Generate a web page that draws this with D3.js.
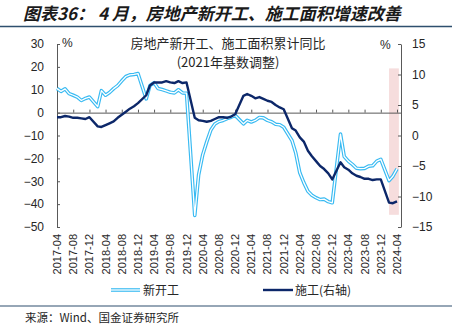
<!DOCTYPE html>
<html><head><meta charset="utf-8">
<script src="https://cdn.jsdelivr.net/npm/d3@7"></script>
<style>
html,body{margin:0;padding:0;background:#fff;}
svg{display:block;}
text{font-family:"Liberation Sans",Arial,"Noto Sans CJK SC",sans-serif;}
.cjk{font-family:"Noto Sans CJK SC","Liberation Sans",sans-serif;}
</style></head>
<body>
<script>
const months = ["2017-04","2017-05","2017-06","2017-07","2017-08","2017-09","2017-10","2017-11","2017-12",
"2018-02","2018-03","2018-04","2018-05","2018-06","2018-07","2018-08","2018-09","2018-10","2018-11","2018-12",
"2019-02","2019-03","2019-04","2019-05","2019-06","2019-07","2019-08","2019-09","2019-10","2019-11","2019-12",
"2020-02","2020-03","2020-04","2020-05","2020-06","2020-07","2020-08","2020-09","2020-10","2020-11","2020-12",
"2021-02","2021-03","2021-04","2021-05","2021-06","2021-07","2021-08","2021-09","2021-10","2021-11","2021-12",
"2022-02","2022-03","2022-04","2022-05","2022-06","2022-07","2022-08","2022-09","2022-10","2022-11","2022-12",
"2023-02","2023-03","2023-04","2023-05","2023-06","2023-07","2023-08","2023-09","2023-10","2023-11","2023-12",
"2024-02","2024-03","2024-04"];
// 新开工 (left axis, %)
const newStarts = [10.5,9.3,10.4,8.3,7.6,6.8,5.3,6.2,6.8,
2.6,9.6,7.6,8.8,10.5,11.8,13.9,15.8,16.5,16.7,17.1,
6.0,11.9,13.1,10.5,10.1,9.5,8.9,8.6,10.0,8.6,8.5,
-44.9,-27.2,-18.4,-12.8,-7.6,-5.0,-3.9,-3.4,-2.6,-2.0,-1.2,
-4.9,-3.4,-4.1,-3.4,-2.1,-2.3,-3.4,-4.0,-5.1,-5.3,-6.4,
-12.2,-17.5,-26.3,-30.6,-34.4,-36.1,-37.2,-38.0,-37.8,-38.9,-39.4,
-9.4,-19.2,-21.2,-22.6,-24.3,-24.5,-24.4,-23.4,-23.2,-21.2,-20.4,
-29.7,-27.8,-24.6];
// 施工 (right axis, %)
const construction = [3.0,3.0,3.2,3.1,2.9,2.9,2.8,2.7,3.0,
1.5,1.4,1.7,2.0,2.3,2.9,3.4,3.9,4.4,4.8,5.3,
6.6,8.2,8.7,8.7,8.7,8.9,8.7,8.6,8.9,8.6,8.7,
2.9,2.5,2.4,2.25,2.4,2.7,3.0,3.0,2.9,3.1,3.5,
6.5,6.8,6.5,6.1,6.3,6.0,5.7,5.5,5.0,4.6,4.3,
1.2,0.8,-0.3,-1.0,-2.5,-3.4,-4.2,-5.0,-5.5,-6.2,-7.2,
-4.4,-5.2,-5.6,-6.2,-6.6,-6.8,-7.1,-7.1,-7.3,-7.2,-7.2,
-11.0,-11.1,-10.8];
const xTickLabels = ["2017-04","2017-08","2017-12","2018-04","2018-08","2018-12","2019-04","2019-08","2019-12",
"2020-04","2020-08","2020-12","2021-04","2021-08","2021-12","2022-04","2022-08","2022-12","2023-04","2023-08","2023-12","2024-04"];
const leftTicks = [30,20,10,0,-10,-20,-30,-40,-50];
const rightTicks = [15,10,5,0,-5,-10,-15];
const highlightDates = ["2024-02-01","2024-04-15"];
const highlightRange = [11,-13];
const seriesNames = ["新开工","施工(右轴)"];
const titleText = "图表36： 4 月，房地产新开工、施工面积增速改善";
const chartTitle = ["房地产新开工、施工面积累计同比","(2021年基数调整)"];
const sourceText = "来源：Wind、国金证券研究所";

const W=452,H=334;
const parse = d3.timeParse("%Y-%m");
const parseD = d3.timeParse("%Y-%m-%d");
const svg = d3.select("body").append("svg").attr("width",W).attr("height",H);

const x = d3.scaleTime().domain([parse("2017-04"), parse("2024-05")]).range([57,401]);
const yL = d3.scaleLinear().domain([-50,30]).range([227,44]);
const yR = d3.scaleLinear().domain([-15,15]).range([227,44]);

const lightBlue="#38BAF2", navy="#0C2769", axisCol="#595959", textCol="#262626";

// title
svg.append("text").attr("class","cjk").attr("x",23).attr("y",20)
  .attr("font-size",17).attr("font-weight","bold").attr("font-style","italic")
  .attr("fill","#1a1a1a").text(titleText);
svg.append("line").attr("x1",0).attr("x2",W).attr("y1",26.5).attr("y2",26.5)
  .attr("stroke","#2E4F6E").attr("stroke-width",1.6);

// highlight band
svg.append("rect")
  .attr("x",x(parseD(highlightDates[0]))).attr("width",x(parseD(highlightDates[1]))-x(parseD(highlightDates[0])))
  .attr("y",yR(highlightRange[0])).attr("height",yR(highlightRange[1])-yR(highlightRange[0]))
  .attr("fill","#F5D9D9").attr("opacity",0.9);

// left axis
const gL = svg.append("g").attr("transform",`translate(${x.range()[0]},0)`)
  .call(d3.axisLeft(yL).tickValues(leftTicks).tickSizeInner(-3).tickSizeOuter(0).tickPadding(13));
gL.select(".domain").attr("stroke",axisCol);
gL.selectAll(".tick line").attr("stroke",axisCol);
gL.selectAll(".tick text").attr("font-size",12).attr("fill",textCol);

// right axis
const gR = svg.append("g").attr("transform",`translate(${x.range()[1]},0)`)
  .call(d3.axisRight(yR).tickValues(rightTicks).tickSizeInner(-3).tickSizeOuter(0).tickPadding(11));
gR.select(".domain").attr("stroke",axisCol);
gR.selectAll(".tick line").attr("stroke",axisCol);
gR.selectAll(".tick text").attr("font-size",12).attr("fill",textCol);

// x axis on zero line
const gX = svg.append("g").attr("transform",`translate(0,${yL(0)})`)
  .call(d3.axisBottom(x).tickValues(xTickLabels.map(parse)).tickSizeInner(-3).tickSizeOuter(0).tickFormat(""));
gX.select(".domain").attr("stroke",axisCol);
gX.selectAll(".tick line").attr("stroke",axisCol);

// x labels at bottom
svg.append("g").selectAll("text").data(xTickLabels).join("text")
  .attr("transform",d=>`translate(${x(parse(d))+4},234) rotate(-90)`)
  .attr("text-anchor","end").attr("font-size",11).attr("fill",textCol).text(d=>d);

// % units
svg.append("text").attr("x",62).attr("y",47).attr("font-size",12).attr("fill",textCol).text("%");
svg.append("text").attr("x",380).attr("y",49).attr("font-size",12).attr("fill",textCol).text("%");

// chart title
svg.append("text").attr("class","cjk").attr("x",228).attr("y",48).attr("text-anchor","middle")
  .attr("font-size",13).attr("fill",textCol).text(chartTitle[0]);
svg.append("text").attr("class","cjk").attr("x",228).attr("y",67).attr("text-anchor","middle")
  .attr("font-size",13).attr("fill",textCol).text(chartTitle[1]);

// lines
const dates = months.map(parse);
const lineL = d3.line().x((d,i)=>x(dates[i])).y(d=>yL(d));
const lineR = d3.line().x((d,i)=>x(dates[i])).y(d=>yR(d));
svg.append("path").attr("d",lineL(newStarts)).attr("fill","none").attr("stroke",lightBlue).attr("stroke-width",3.6).attr("stroke-linejoin","round");
svg.append("path").attr("d",lineL(newStarts)).attr("fill","none").attr("stroke","#fff").attr("stroke-width",1.3).attr("stroke-linejoin","round");
svg.append("path").attr("d",lineR(construction)).attr("fill","none").attr("stroke",navy).attr("stroke-width",2.4).attr("stroke-linejoin","round");

// legend
const ly=290;
svg.append("line").attr("x1",111).attr("x2",140).attr("y1",ly).attr("y2",ly).attr("stroke",lightBlue).attr("stroke-width",3.6);
svg.append("line").attr("x1",111).attr("x2",140).attr("y1",ly).attr("y2",ly).attr("stroke","#fff").attr("stroke-width",1.3);
svg.append("text").attr("class","cjk").attr("x",143).attr("y",ly+4.5).attr("font-size",12).attr("fill",textCol).text(seriesNames[0]);
svg.append("line").attr("x1",263).attr("x2",293).attr("y1",ly).attr("y2",ly).attr("stroke",navy).attr("stroke-width",2.4);
svg.append("text").attr("class","cjk").attr("x",295).attr("y",ly+4.5).attr("font-size",12).attr("fill",textCol).text(seriesNames[1]);

// bottom rule and source
svg.append("line").attr("x1",0).attr("x2",W).attr("y1",306).attr("y2",306)
  .attr("stroke","#2E4F6E").attr("stroke-width",1.2);
svg.append("text").attr("class","cjk").attr("x",25).attr("y",322).attr("font-size",11.5).attr("fill",textCol).text(sourceText);
</script>
</body></html>
